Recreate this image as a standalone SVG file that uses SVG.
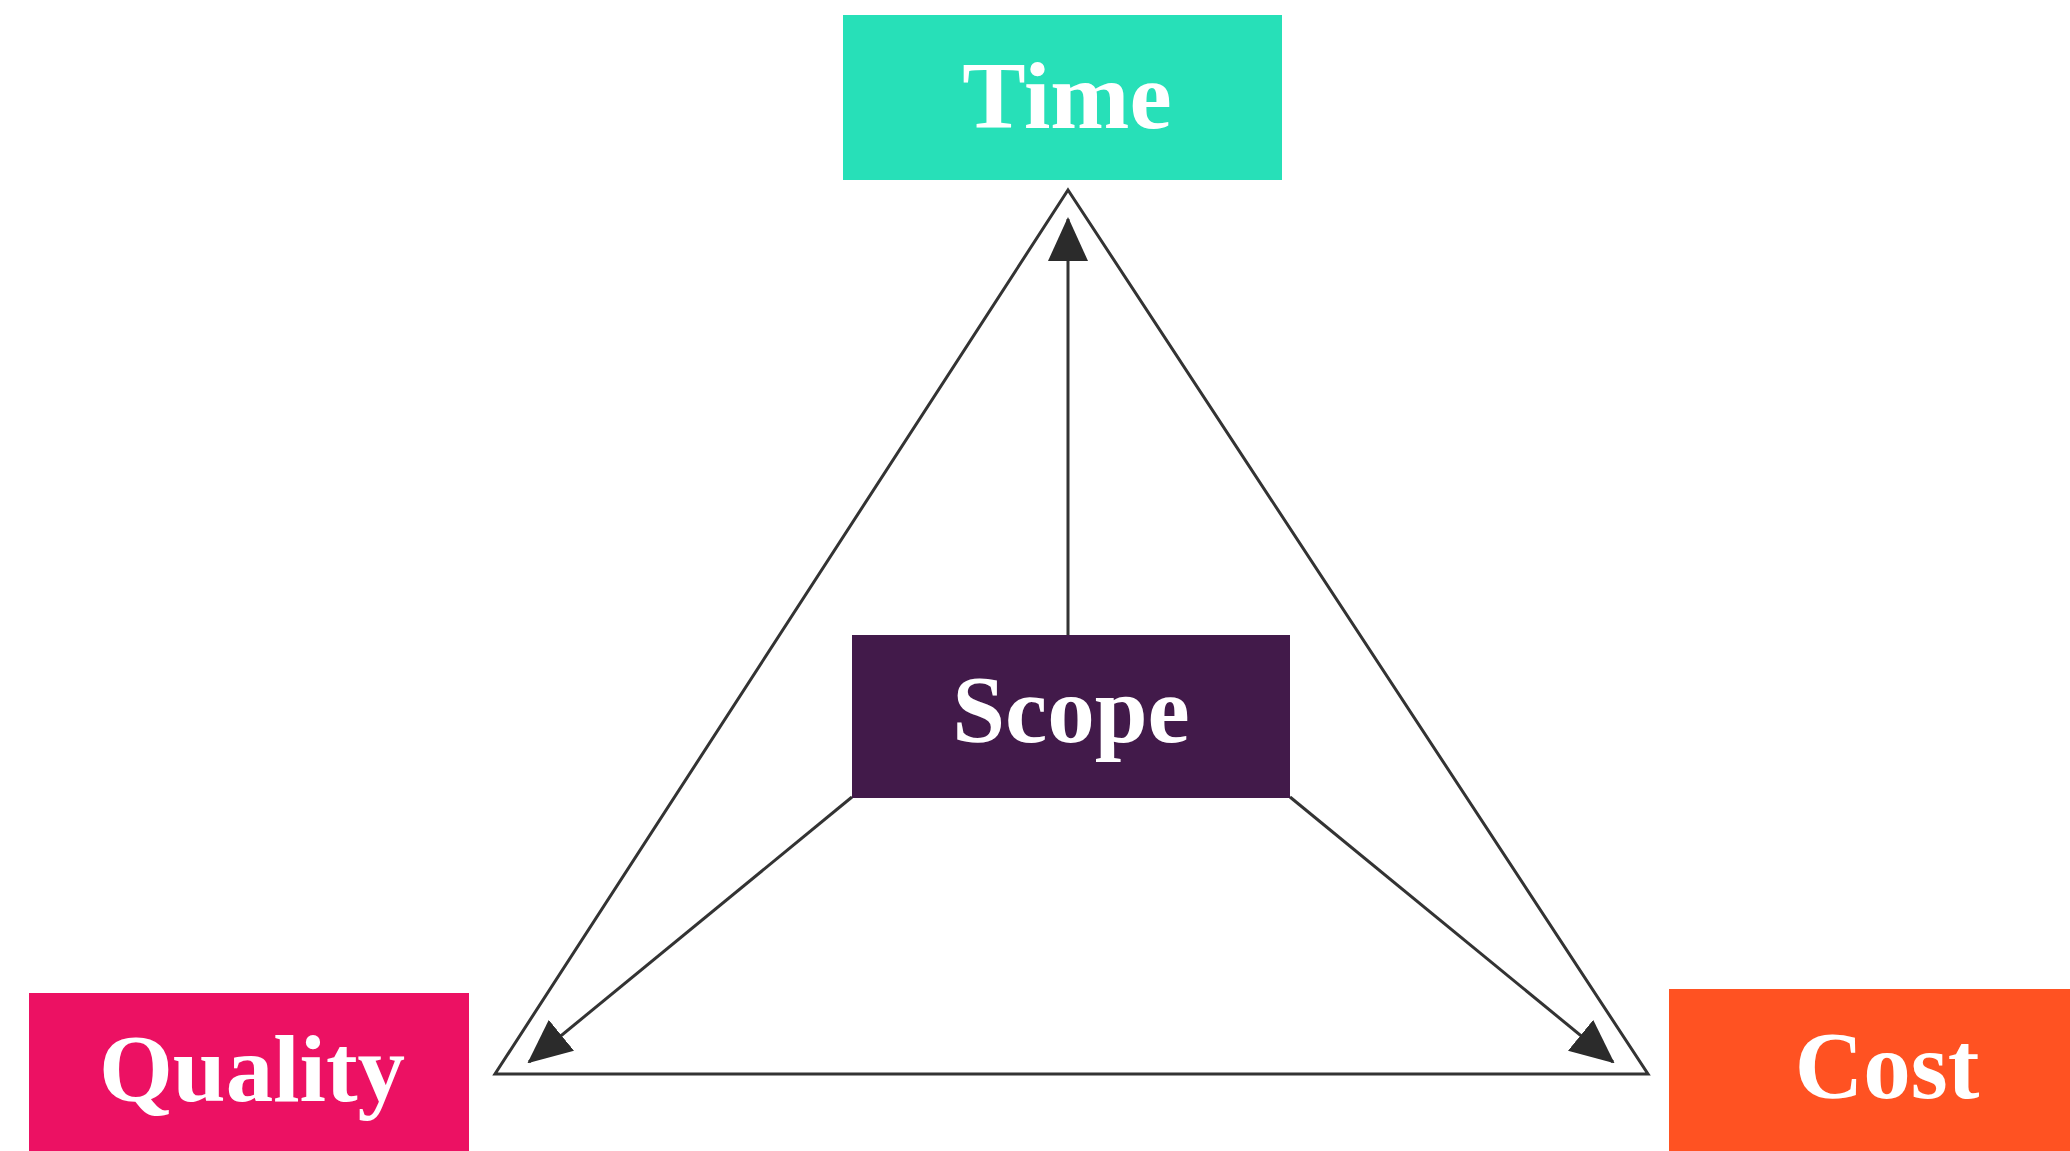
<svg xmlns="http://www.w3.org/2000/svg" width="2070" height="1151" viewBox="0 0 2070 1151">
  <style>
    .label { font-family: "Liberation Serif", "Times New Roman", serif; font-weight: bold; font-size: 95px; fill: #ffffff; text-anchor: middle; }
    .edge { stroke: #333333; stroke-width: 3; fill: none; }
  </style>
  <defs>
    <marker id="arrow" markerUnits="userSpaceOnUse" markerWidth="44" markerHeight="40" viewBox="0 0 44 40" refX="42" refY="20" orient="auto">
      <path d="M0,0 L44,20 L0,40 Z" fill="#2b2b2b"/>
    </marker>
  </defs>
  <rect width="2070" height="1151" fill="#ffffff"/>

  <!-- triangle frame and scope connectors -->
  <g id="connectors">
    <polygon class="edge" points="1068,190 1648,1074 495,1074"/>
    <line class="edge" x1="1068" y1="635" x2="1068" y2="219" marker-end="url(#arrow)"/>
    <line class="edge" x1="852" y1="797" x2="529" y2="1062" marker-end="url(#arrow)"/>
    <line class="edge" x1="1290" y1="797" x2="1613" y2="1062" marker-end="url(#arrow)"/>
  </g>

  <g id="time">
    <rect x="843" y="15" width="439" height="165" fill="#27e0b8"/>
    <text class="label" x="1067" y="128">Time</text>
  </g>

  <g id="scope">
    <rect x="852" y="635" width="438" height="163" fill="#421a4a"/>
    <text class="label" x="1071" y="742">Scope</text>
  </g>

  <g id="quality">
    <rect x="29" y="993" width="440" height="158" fill="#ec1163"/>
    <text class="label" x="252" y="1101">Quality</text>
  </g>

  <g id="cost">
    <rect x="1669" y="989" width="401" height="162" fill="#ff5222"/>
    <text class="label" x="1887" y="1098">Cost</text>
  </g>
</svg>
